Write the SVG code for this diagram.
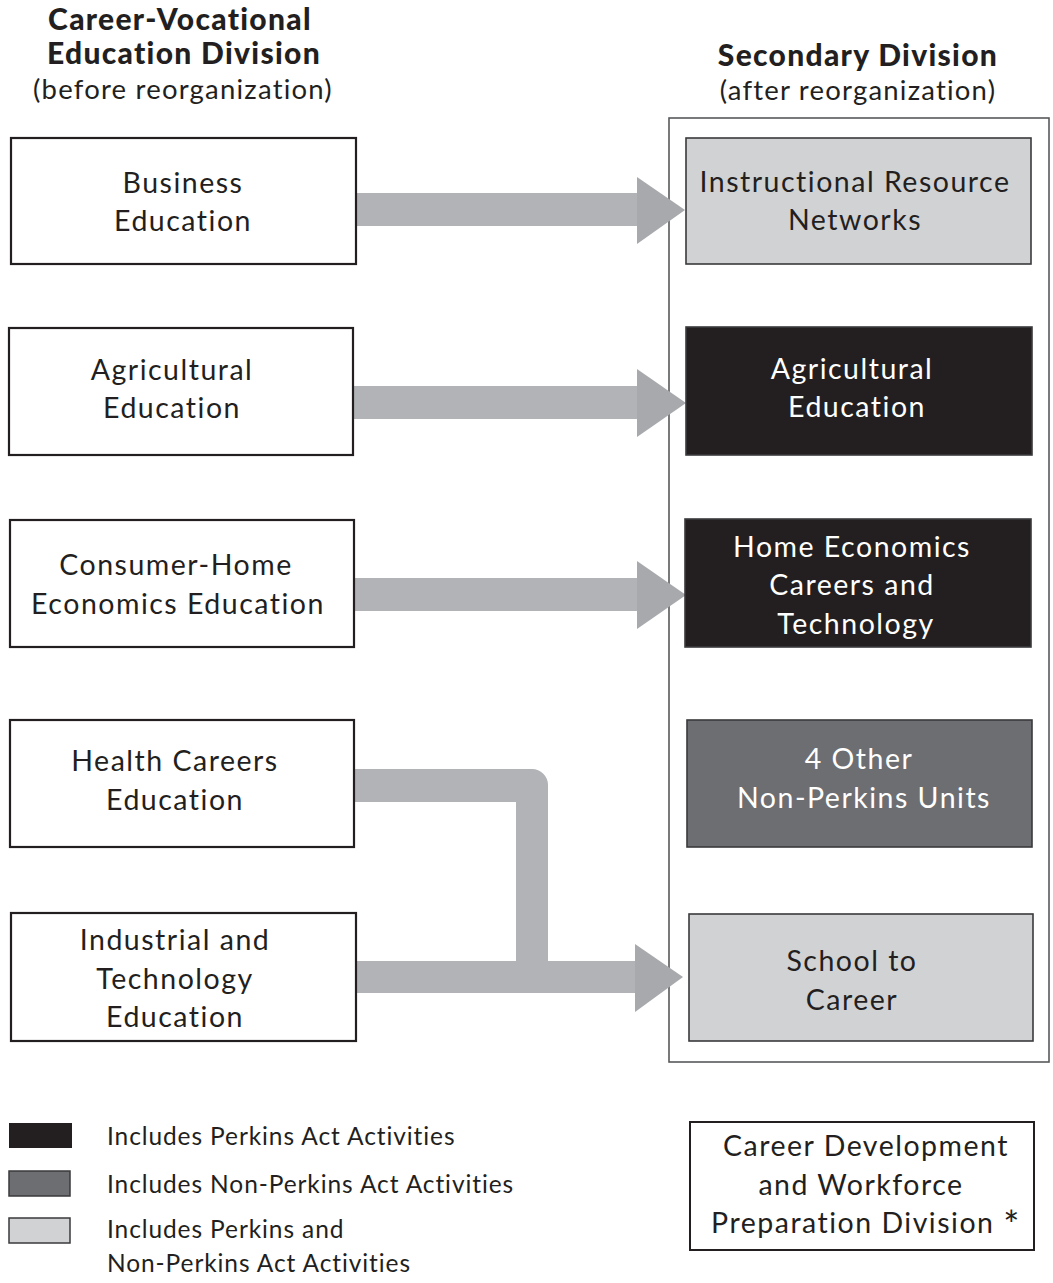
<svg xmlns="http://www.w3.org/2000/svg" width="1053" height="1283" viewBox="0 0 1053 1283">
<style>
text{font-family:Lato,"Noto Sans","Liberation Sans",sans-serif;fill:#231f20;font-size:28.5px;letter-spacing:1.5px;text-anchor:middle}
.h{font-weight:900;font-size:30px;letter-spacing:1.3px}
.s{font-size:27.5px;letter-spacing:1.2px}
.lg{font-size:24.5px;letter-spacing:0.9px;text-anchor:start}
.w{fill:#ffffff}
.src{fill:#ffffff;stroke:#231f20;stroke-width:2.2}
.tgt{stroke:#3a3a3c;stroke-width:1.6}
.light{fill:#d1d2d4}
.black{fill:#231f20}
.dark{fill:#6d6e71}
.shaft{fill:#b1b3b6}
.head{fill:#a7a9ac}
</style>
<rect width="1053" height="1283" fill="#ffffff"/>
<g id="headers">
<text class="h" x="180" y="30">Career-Vocational</text>
<text class="h" x="184" y="64">Education Division</text>
<text class="s" x="183" y="99">(before reorganization)</text>
<text class="h" x="858" y="66">Secondary Division</text>
<text class="s" x="858" y="100">(after reorganization)</text>
</g>
<g id="secondary-division">
<rect x="669" y="118" width="380" height="944" fill="none" stroke="#58595b" stroke-width="1.6"/>
</g>
<g id="connectors">
<rect class="shaft" x="356" y="193" width="282" height="33"/>
<polygon class="head" points="637,177 685,210 637,244"/>
<rect class="shaft" x="353" y="386" width="285" height="33"/>
<polygon class="head" points="637,369 686,403 637,437"/>
<rect class="shaft" x="354" y="578" width="284" height="33"/>
<polygon class="head" points="637,561 686,595 637,629"/>
<path class="shaft" d="M354,769 H532 A16,16 0 0 1 548,785 V961 H636 V993 H356 V961 H516 V802 H354 Z"/>
<polygon class="head" points="635,944 683,977 635,1012"/>
</g>
<g id="business-education">
<rect class="src" x="11" y="138" width="345" height="126"/>
<text x="183" y="193">Business</text>
<text x="183" y="231">Education</text>
</g>
<g id="agricultural-education-before">
<rect class="src" x="9" y="328" width="344" height="127"/>
<text x="172" y="380">Agricultural</text>
<text x="172" y="418">Education</text>
</g>
<g id="consumer-home">
<rect class="src" x="10" y="520" width="344" height="127"/>
<text x="176" y="575">Consumer-Home</text>
<text x="178" y="614">Economics Education</text>
</g>
<g id="health-careers">
<rect class="src" x="10" y="720" width="344" height="127"/>
<text x="175" y="771">Health Careers</text>
<text x="175" y="810">Education</text>
</g>
<g id="industrial">
<rect class="src" x="11" y="913" width="345" height="128"/>
<text x="175" y="950">Industrial and</text>
<text x="175" y="989">Technology</text>
<text x="175" y="1027">Education</text>
</g>
<g id="instructional-resource">
<rect class="tgt light" x="686" y="138" width="345" height="126"/>
<text x="855" y="192">Instructional Resource</text>
<text x="855" y="230">Networks</text>
</g>
<g id="agricultural-education-after">
<rect class="tgt black" x="686" y="327" width="346" height="128"/>
<text class="w" x="852" y="379">Agricultural</text>
<text class="w" x="857" y="417">Education</text>
</g>
<g id="home-economics">
<rect class="tgt black" x="685" y="519" width="346" height="128"/>
<text class="w" x="852" y="557">Home Economics</text>
<text class="w" x="852" y="595">Careers and</text>
<text class="w" x="856" y="634">Technology</text>
</g>
<g id="other-units">
<rect class="tgt dark" x="687" y="720" width="345" height="127"/>
<text class="w" x="859" y="769">4 Other</text>
<text class="w" x="864" y="808">Non-Perkins Units</text>
</g>
<g id="school-to-career">
<rect class="tgt light" x="689" y="914" width="344" height="127"/>
<text x="852" y="971">School to</text>
<text x="852" y="1010">Career</text>
</g>
<g id="career-development">
<rect x="690" y="1122" width="344" height="128" fill="#ffffff" stroke="#231f20" stroke-width="2"/>
<text x="866" y="1156">Career Development</text>
<text x="861" y="1195">and Workforce</text>
<text x="866" y="1233">Preparation Division <tspan dy="6" font-size="38">*</tspan></text>
</g>
<g id="legend">
<rect x="9" y="1123" width="63" height="25" fill="#231f20"/>
<rect x="9" y="1171" width="61" height="25" fill="#6d6e71" stroke="#3a3a3c" stroke-width="1.5"/>
<rect x="9" y="1218" width="61" height="25" fill="#d1d2d4" stroke="#3a3a3c" stroke-width="1.5"/>
<text class="lg" x="107" y="1145">Includes Perkins Act Activities</text>
<text class="lg" x="107" y="1193">Includes Non-Perkins Act Activities</text>
<text class="lg" x="107" y="1238">Includes Perkins and</text>
<text class="lg" x="107" y="1272">Non-Perkins Act Activities</text>
</g>
</svg>
